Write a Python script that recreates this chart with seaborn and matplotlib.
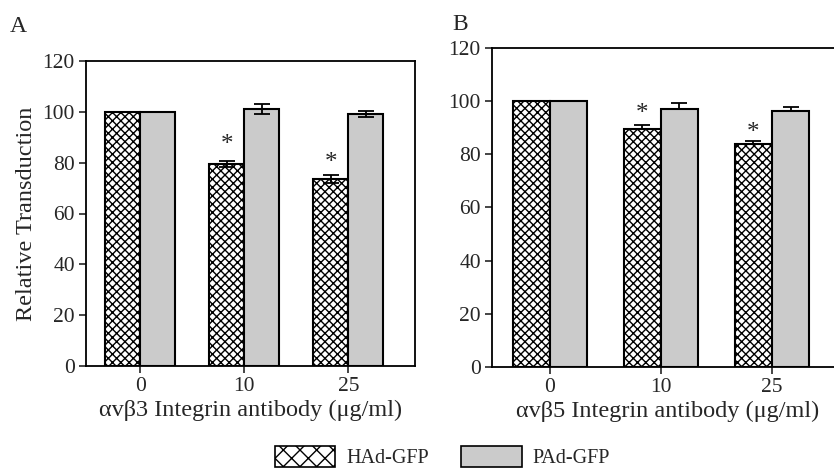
import numpy as np
import pandas as pd
import matplotlib.pyplot as plt
import seaborn as sns
from matplotlib.patches import Patch

# data
doses = ['0', '10', '25']
viruses = ['HAd-GFP', 'PAd-GFP']

had_b3 = [100, 79.5, 73.6]
had_b3_err = [0, 1.3, 1.7]
pad_b3 = [100, 101.2, 99.2]
pad_b3_err = [0, 2.0, 1.2]

had_b5 = [100, 89.6, 83.9]
had_b5_err = [0, 1.3, 1.0]
pad_b5 = [100, 97.1, 96.4]
pad_b5_err = [0, 2.1, 1.5]

star_b3 = [None, 87, 80]
star_b5 = [None, 95, 88]

sns.set_style('ticks')
plt.rcParams['font.family'] = ['Liberation Serif', 'DejaVu Serif']
plt.rcParams['hatch.linewidth'] = 1.0

grey = '#cbcbcb'


def panel(ax, had, had_err, pad, pad_err, stars, xlabel, both_sides):
    df = pd.DataFrame({
        'dose': doses * 2,
        'virus': [viruses[0]] * 3 + [viruses[1]] * 3,
        'value': had + pad,
    })
    sns.barplot(data=df, x='dose', y='value', hue='virus', order=doses,
                hue_order=viruses, palette=['white', grey], width=0.67,
                edgecolor='black', linewidth=1.5, legend=False, ax=ax)
    for p in ax.containers[0]:
        p.set_hatch('xxxx')
    # error bars on top of bars
    for cont, vals, errs in [(ax.containers[0], had, had_err), (ax.containers[1], pad, pad_err)]:
        for p, v, e in zip(cont, vals, errs):
            if e == 0:
                continue
            xc = p.get_x() + p.get_width() / 2
            lower = e if both_sides else 0
            ax.errorbar(xc, v, yerr=[[lower], [e]], fmt='none', ecolor='black',
                        elinewidth=1.3, capsize=6, capthick=1.3, zorder=5)
    for p, s in zip(ax.containers[0], stars):
        if s is None:
            continue
        xc = p.get_x() + p.get_width() / 2
        ax.text(xc, s, '*', ha='center', va='center', fontsize=18)
    ax.set_ylim(0, 120)
    ax.set_xlim(-0.52, 2.64)
    ax.set_yticks([0, 20, 40, 60, 80, 100, 120])
    ax.tick_params(axis='both', labelsize=15.5, direction='out', length=5, width=1.2, pad=3)
    ax.set_xlabel(xlabel, fontsize=17.5, labelpad=3)
    for s in ax.spines.values():
        s.set_linewidth(1.3)
        s.set_color('black')


fig = plt.figure(figsize=(8.34, 4.70), dpi=100)
axA = fig.add_axes([86 / 834, 1 - 366 / 470, 329 / 834, 305 / 470])
axB = fig.add_axes([492 / 834, 1 - 367 / 470, 351 / 834, 319 / 470])

panel(axA, had_b3, had_b3_err, pad_b3, pad_b3_err, star_b3,
      'αvβ3 Integrin antibody (μg/ml)', True)
panel(axB, had_b5, had_b5_err, pad_b5, pad_b5_err, star_b5,
      'αvβ5 Integrin antibody (μg/ml)', False)

axA.set_ylabel('Relative Transduction', fontsize=17.5, labelpad=4)
axB.set_ylabel('')

fig.text(10 / 834, 1 - 27 / 470, 'A', fontsize=17, va='center')
fig.text(452 / 834, 1 - 25 / 470, 'B', fontsize=17, va='center')

handles = [Patch(facecolor='white', edgecolor='black', hatch='xx', linewidth=1.2, label=viruses[0]),
           Patch(facecolor=grey, edgecolor='black', linewidth=1.2, label=viruses[1])]
fig.legend(handles=handles, loc='lower left', bbox_to_anchor=(275 / 834, 2 / 470), ncol=2,
           frameon=False, fontsize=14.5, handlelength=3.0, handleheight=1.2,
           columnspacing=1.6, handletextpad=0.55, borderpad=0, borderaxespad=0)

fig.savefig('out.png', dpi=100)
